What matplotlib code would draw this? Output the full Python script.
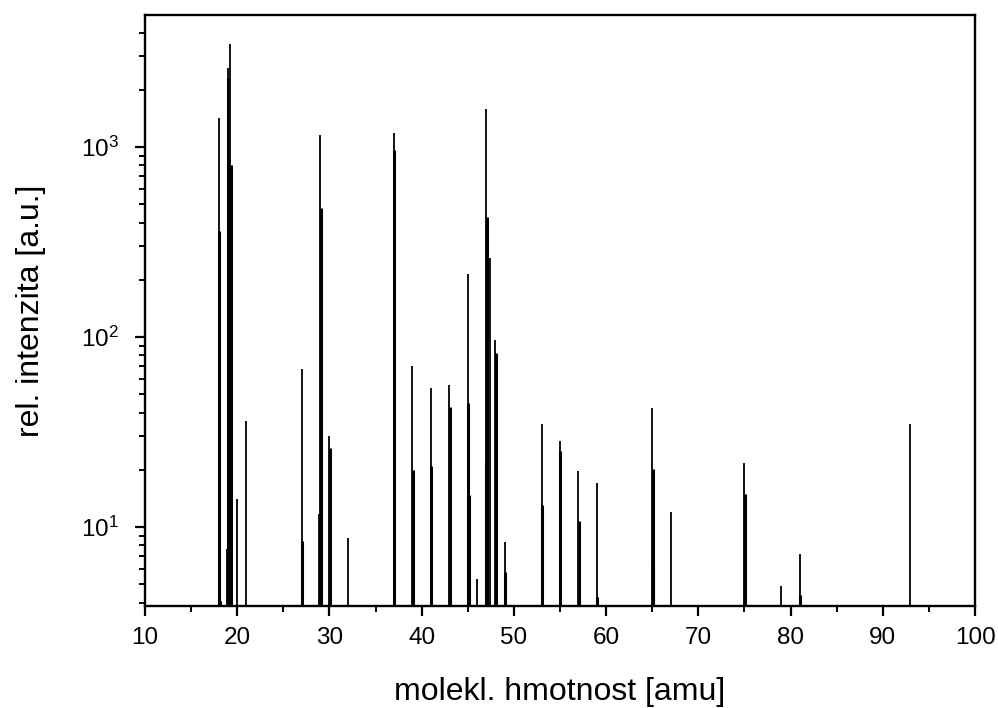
import matplotlib
matplotlib.use("Agg")
import matplotlib.pyplot as plt
from matplotlib.ticker import LogLocator, MultipleLocator, NullFormatter

plt.rcParams['font.family'] = ['Liberation Sans', 'DejaVu Sans']
plt.rcParams['mathtext.fontset'] = 'custom'
plt.rcParams['mathtext.rm'] = 'Liberation Sans'
plt.rcParams['mathtext.it'] = 'Liberation Sans'

# Peak tops (thin lines): mass [amu], intensity [a.u.]
top_mass = [18, 18.2, 18.85, 19, 19.25, 20, 21, 27, 28.9, 29, 29.12, 29.22, 30, 32,
            37, 39, 41, 43, 45, 46, 47, 47.4, 48, 49, 53, 55, 57, 59, 65, 67,
            75, 79, 81, 93]
top_int = [1420, 4.1, 7.7, 2600, 3500, 14, 36, 68, 11.7, 1160, 5.7, 5.2, 30, 8.8,
           1180, 70, 54, 56, 215, 5.3, 1580, 260, 97, 8.3, 35, 28.5, 19.7, 17, 42.5, 12,
           21.8, 4.9, 7.2, 34.7]

# Lower shoulders (thicker lines): mass [amu], intensity [a.u.]
low_mass = [18, 19, 19.3, 27, 29, 30, 37, 39, 41, 43, 45, 45.05, 46.9, 47.05, 48,
            49, 53, 55, 57, 59, 65, 65.02, 75, 81]
low_int = [360, 2300, 800, 8.4, 480, 26, 960, 20, 21, 43, 45, 14.7, 22, 430, 82,
           5.8, 13, 25, 10.8, 4.3, 20.3, 6.4, 15, 4.4]

x_ticks = [10, 20, 30, 40, 50, 60, 70, 80, 90, 100]

fig = plt.figure(figsize=(9.98, 7.08), dpi=100)
ax = fig.add_axes([0.1453, 0.1441, 0.977 - 0.1453, 0.9788 - 0.1441])

ax.set_yscale('log')
ax.vlines(top_mass, 1.0, top_int, colors='black', linewidth=1.3)
ax.vlines([m + 0.04 for m in low_mass], 1.0, low_int, colors='black', linewidth=2.2)

ax.set_xlim(10, 100)
ax.set_ylim(3.84, 4950)
ax.set_xticks(x_ticks)
ax.xaxis.set_minor_locator(MultipleLocator(5))
ax.yaxis.set_major_locator(LogLocator(base=10, numticks=10))
ax.yaxis.set_minor_locator(LogLocator(base=10, subs=range(2, 10), numticks=20))
ax.yaxis.set_minor_formatter(NullFormatter())

for s in ax.spines.values():
    s.set_linewidth(1.7)
ax.tick_params(axis='both', which='major', direction='out', length=7, width=1.6,
               labelsize=17.5, top=False, right=False)
ax.tick_params(axis='both', which='minor', direction='out', length=4, width=1.4,
               top=False, right=False)
ax.tick_params(axis='x', which='major', pad=8)
ax.tick_params(axis='y', which='major', pad=12)

ax.set_xlabel('molekl. hmotnost [amu]', fontsize=23, labelpad=20)
ax.set_ylabel('rel. intenzita [a.u.]', fontsize=23, labelpad=25)

fig.savefig('out.png', dpi=100)
